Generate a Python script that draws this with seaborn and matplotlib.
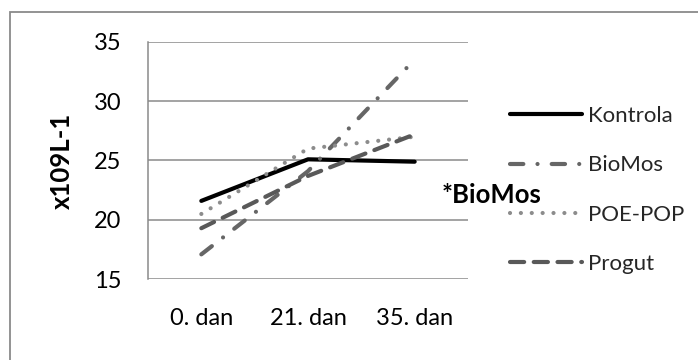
import matplotlib
matplotlib.use("Agg")
import matplotlib.pyplot as plt
import matplotlib.patches as mpatches
import seaborn as sns
import pandas as pd

# ---- data ----
categories = ["0. dan", "21. dan", "35. dan"]
kontrola = [21.6, 25.1, 24.9]
biomos = [17.1, 24.1, 33.5]
poe_pop = [20.5, 26.0, 27.0]
progut = [19.3, 23.7, 27.2]
series_names = ["Kontrola", "BioMos", "POE-POP", "Progut"]
y_ticks = [15, 20, 25, 30, 35]
y_label = "x109L-1"
annotation = "*BioMos"

sns.set_theme(style="white")
plt.rcParams['font.family'] = ['Lato', 'DejaVu Sans']

FS_TICK = 17
FS_LEG = 16
FS_BOLD = 18.5
fig = plt.figure(figsize=(6.98, 3.6), dpi=100)
W, H = 698, 360
ax = fig.add_axes([148 / W, 1 - 279.3 / H, 320 / W, (279.3 - 41.7) / H])

pos = list(range(len(categories)))
styles = {
    "Kontrola": dict(color="#000000", linestyle="-", lw=3.0),
    "BioMos": dict(color="#666666", linestyle=(0, (3.2, 3.4, 0.01, 3.4)), lw=3.0),
    "POE-POP": dict(color="#8c8c8c", linestyle=(0, (0.01, 2.6)), lw=3.0),
    "Progut": dict(color="#595959", linestyle=(0, (3.4, 2.3)), lw=3.0),
}
values = {"Kontrola": kontrola, "BioMos": biomos, "POE-POP": poe_pop, "Progut": progut}

handles = []
for name in series_names:
    df = pd.DataFrame({"x": pos, "y": values[name]})
    st = styles[name]
    sns.lineplot(data=df, x="x", y="y", ax=ax, color=st["color"], linewidth=st["lw"],
                 linestyle=st["linestyle"], dash_capstyle="round",
                 solid_capstyle="round", label=name, legend=False)
    handles.append(ax.lines[-1])

ax.set_xlim(-0.5, 2.5)
ax.set_ylim(15, 35)
ax.set_yticks(y_ticks)
ax.set_xticks(pos)
ax.set_xticklabels(categories)
ax.set_xlabel("")
ax.set_ylabel("")
ax.yaxis.grid(True, color="#8a8a8a", lw=1.1)
ax.xaxis.grid(False)
ax.set_axisbelow(True)
for s in ["top", "right", "bottom"]:
    ax.spines[s].set_visible(False)
ax.spines["left"].set_color("#8a8a8a")
ax.spines["left"].set_linewidth(1.1)
ax.tick_params(axis="y", length=0, pad=19, labelsize=FS_TICK, colors="#000000")
ax.tick_params(axis="x", length=0, pad=21, labelsize=FS_TICK, colors="#000000")

fig.text(62 / W, 1 - 161 / H, y_label, rotation=90, ha="center", va="center",
         fontsize=FS_BOLD, fontweight="bold", color="#000000")
fig.text(442 / W, 1 - 195 / H, annotation, ha="left", va="center",
         fontsize=FS_BOLD, fontweight="bold", color="#000000")

leg = fig.legend(handles=handles, labels=series_names, loc="upper left",
                 bbox_to_anchor=(510 / W, 1 - 106 / H), frameon=False,
                 fontsize=FS_LEG, handlelength=3.24, handletextpad=0.27,
                 labelspacing=1.32, borderpad=0, borderaxespad=0)

border = mpatches.Rectangle((10 / W, -0.2), 1.2, (H - 12) / H + 0.2,
                            transform=fig.transFigure, fill=False,
                            edgecolor="#8a8a8a", lw=1.3)
fig.patches.append(border)

fig.savefig("out.png", dpi=100)
